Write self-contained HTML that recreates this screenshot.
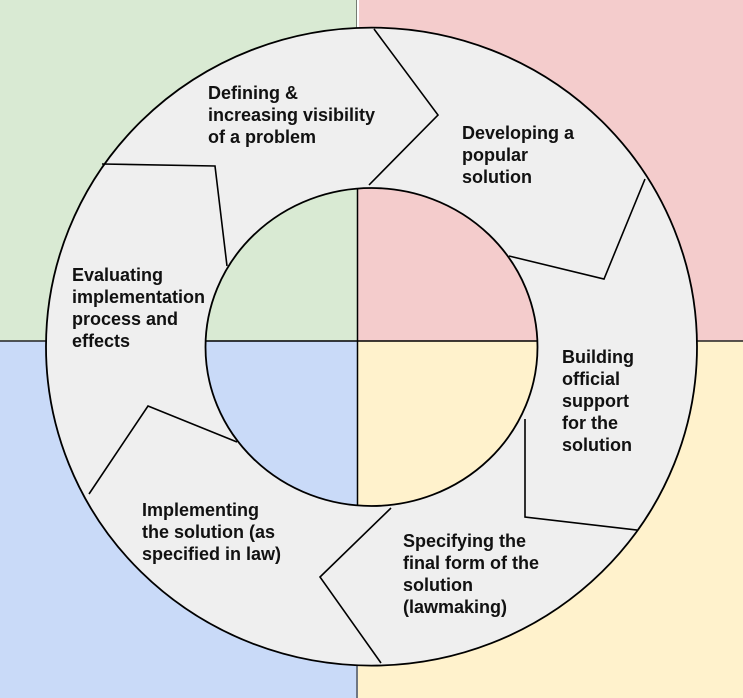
<!DOCTYPE html>
<html><head><meta charset="utf-8"><style>
html,body{margin:0;padding:0;background:#fff}
svg{display:block}
text{font-family:"Liberation Sans",Arial,sans-serif;font-weight:bold;font-size:18px;fill:#111}
</style></head><body>
<svg width="743" height="698" viewBox="0 0 743 698" xmlns="http://www.w3.org/2000/svg">
<rect x="0" y="0" width="358" height="341" fill="#d9ead3"/>
<rect x="358" y="0" width="385" height="341" fill="#f4cccc"/>
<rect x="0" y="341" width="358" height="357" fill="#c9daf8"/>
<rect x="358" y="341" width="385" height="357" fill="#fff2cc"/>
<line x1="0" y1="341" x2="743" y2="341" stroke="#222" stroke-width="1.5"/>
<line x1="357" y1="0" x2="357" y2="698" stroke="#333" stroke-width="1.2"/>
<line x1="358" y1="0" x2="358" y2="30" stroke="#fff" stroke-width="2"/>
<ellipse cx="371.5" cy="346.6" rx="325.5" ry="319" fill="#efefef" stroke="#000" stroke-width="1.8"/>
<g fill="none" stroke="#000" stroke-width="1.6" stroke-linejoin="miter">
<polyline points="374,29 438,115 369,185"/>
<polyline points="645,179 604,279 509,256"/>
<polyline points="637,530 525,517 525,419"/>
<polyline points="391,508 320,577 381,663"/>
<polyline points="237,442 148,406 89,494"/>
<polyline points="102,164 215,166 227,266"/>
</g>
<clipPath id="c"><ellipse cx="371.5" cy="347" rx="166" ry="159"/></clipPath>
<g clip-path="url(#c)">
<rect x="200" y="180" width="158" height="161" fill="#d9ead3"/>
<rect x="358" y="180" width="190" height="161" fill="#f4cccc"/>
<rect x="200" y="341" width="158" height="170" fill="#c9daf8"/>
<rect x="358" y="341" width="190" height="170" fill="#fff2cc"/>
<line x1="200" y1="341" x2="545" y2="341" stroke="#000" stroke-width="1.5"/>
<line x1="357.5" y1="180" x2="357.5" y2="510" stroke="#000" stroke-width="1.5"/>
</g>
<ellipse cx="371.5" cy="347" rx="166" ry="159" fill="none" stroke="#000" stroke-width="1.8"/>
<text x="208" y="99">Defining &amp;</text>
<text x="208" y="121">increasing visibility</text>
<text x="208" y="143">of a problem</text>
<text x="462" y="139">Developing a</text>
<text x="462" y="161">popular</text>
<text x="462" y="183">solution</text>
<text x="72" y="281">Evaluating</text>
<text x="72" y="303">implementation</text>
<text x="72" y="325">process and</text>
<text x="72" y="347">effects</text>
<text x="562" y="363">Building</text>
<text x="562" y="385">official</text>
<text x="562" y="407">support</text>
<text x="562" y="429">for the</text>
<text x="562" y="451">solution</text>
<text x="142" y="516">Implementing</text>
<text x="142" y="538">the solution (as</text>
<text x="142" y="560">specified in law)</text>
<text x="403" y="547">Specifying the</text>
<text x="403" y="569">final form of the</text>
<text x="403" y="591">solution</text>
<text x="403" y="613">(lawmaking)</text>
</svg>
</body></html>
